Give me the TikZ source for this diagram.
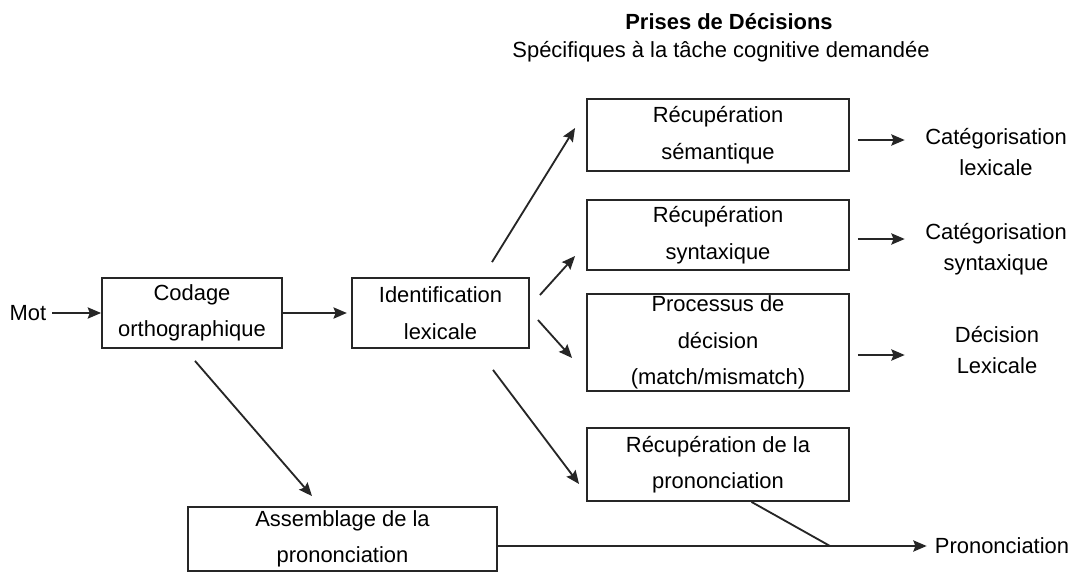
\documentclass[tikz,border=0pt]{standalone}
\usepackage{fontspec}
\setmainfont{Liberation Sans}
\usetikzlibrary{arrows.meta,calc}

\tikzset{
  txt/.style={font=\fontsize{15.6}{26}\selectfont},
  box/.style={txt, draw=black!85, line width=1.3pt, inner sep=0pt, align=center},
  lbl/.style={txt, inner sep=0pt, align=center, text width=3.8cm,
    font=\fontsize{15.6}{22}\selectfont},
  arr/.style={-{Stealth[length=9.5pt,width=8pt,inset=1.5pt]}, line width=1.3pt, draw=black!85},
}

\begin{document}
\begin{tikzpicture}[x=0.025cm,y=-0.025cm]
\useasboundingbox[fill=white] (0,0) rectangle (1078,572);

% heading
\node[txt, font=\fontsize{15.6}{26}\selectfont\bfseries] (title) at (729,22) {Prises de Décisions};
\node[txt] (subtitle) at (721,52) {Spécifiques à la tâche cognitive demandée};

% left part
\node[txt, inner sep=0pt] (mot) at (28,313) {Mot};
\node[box, minimum width=4.5cm, minimum height=1.75cm] (codage) at (192,313) {Codage\\orthographique};
\node[box, minimum width=4.425cm, minimum height=1.75cm] (ident) at (440.5,313) {Identification\\lexicale};
\node[box, minimum width=7.725cm, minimum height=1.6cm] (assemb) at (342.5,539) {Assemblage de la\\prononciation};

% decision boxes
\node[box, minimum width=6.55cm, minimum height=1.8cm] (sem) at (718,135) {Récupération\\sémantique};
\node[box, minimum width=6.55cm, minimum height=1.75cm] (syn) at (718,235) {Récupération\\syntaxique};
\node[box, minimum width=6.55cm, minimum height=2.425cm, text depth=3pt] (dec) at (718,342.5) {Processus de\\décision\\(match/mismatch)};
\node[box, minimum width=6.55cm, minimum height=1.825cm] (pronr) at (718,464.5) {Récupération de la\\prononciation};

% outputs
\node[lbl] (cat1) at (996,152) {Catégorisation\\lexicale};
\node[lbl] (cat2) at (996,249) {Catégorisation\\syntaxique};
\node[lbl] (declex) at (997,350) {Décision\\Lexicale};
\node[txt, inner sep=0pt] (pronl) at (1002,546) {Prononciation};

\draw[arr, shorten <=4pt] (mot) -- (codage);
\draw[arr, shorten >=3pt] (codage) -- (ident);
\draw[arr] ($(codage.south)+(3,12)$) -- ($(assemb.north)+(-30.5,-10)$);

\draw[arr] ($(ident.north)+(51.5,-15)$) -- ($(sem.west)+(-11,-7)$);
\draw[arr] ($(ident.east)+(10,-18)$) -- ($(syn.west)+(-11,21)$);
\draw[arr] ($(ident.east)+(8,7)$) -- ($(dec.west)+(-14,15.5)$);
\draw[arr] ($(ident.south)+(52.5,21)$) -- ($(pronr.west)+(-7,19.5)$);

\draw[arr, shorten >=0.375cm] ($(sem.east)+(8,5)$) coordinate (o1) -- (o1 -| cat1.west);
\draw[arr, shorten >=0.375cm] ($(syn.east)+(8,4)$) coordinate (o2) -- (o2 -| cat2.west);
\draw[arr, shorten >=0.375cm] ($(dec.east)+(8,12.5)$) coordinate (o3) -- (o3 -| cat2.west);

\coordinate (merge) at (830,546);
\draw[arr, shorten >=0.2cm] (assemb.east |- pronl) -- (pronl.west);
\draw[line width=1.3pt, draw=black!85] ($(pronr.south)+(33.5,0)$) -- (merge);
\end{tikzpicture}
\end{document}
